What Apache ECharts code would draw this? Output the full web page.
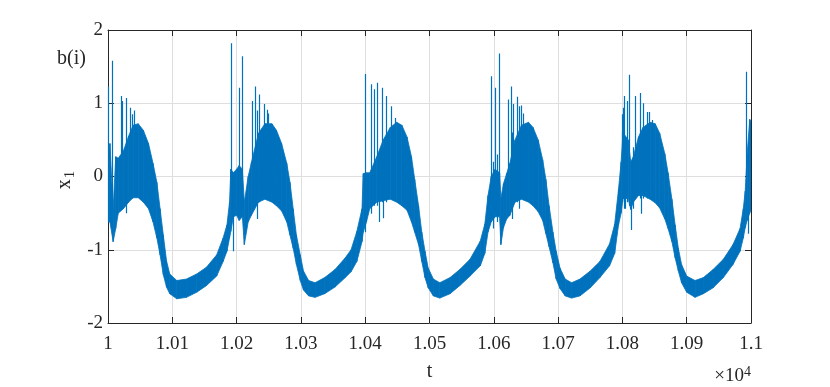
<!DOCTYPE html>
<html>
<head>
<meta charset="utf-8">
<script src="https://cdn.jsdelivr.net/npm/echarts@6/dist/echarts.min.js"></script>
<style>
  html, body { margin: 0; padding: 0; background: #fff; }
  #chart { width: 830px; height: 387px; }
</style>
</head>
<body>
<div id="chart"></div>
<script>
// envelope of the dense oscillation band
const bandT = [
  10000, 10003, 10008, 10012, 10016, 10024, 10032, 10039, 10047, 10055, 10063, 10070, 10076, 10081, 10086, 10091, 10096,
  10107, 10122, 10138, 10153, 10169, 10179, 10185, 10189,
  10191, 10195, 10200, 10204, 10209, 10212, 10218, 10223, 10234, 10244, 10255, 10262, 10270, 10278, 10283, 10288, 10293,
  10299, 10304, 10312, 10322, 10337, 10353, 10369, 10378, 10387, 10395,
  10397, 10402, 10407, 10418, 10428, 10439, 10449, 10457, 10465, 10472, 10477, 10483, 10488, 10493, 10498,
  10506, 10516, 10532, 10547, 10563, 10579, 10586, 10591,
  10596, 10602, 10609, 10611, 10615, 10620, 10625, 10633, 10643, 10654, 10661, 10669, 10676, 10681, 10686, 10692, 10697,
  10703, 10711, 10721, 10734, 10750, 10765, 10780, 10788, 10794,
  10798, 10801, 10809, 10813, 10817, 10825, 10832, 10843, 10851, 10858, 10866, 10871, 10877, 10882, 10887, 10892,
  10900, 10913, 10926, 10941, 10957, 10972, 10983, 10988, 10991, 10994, 10998, 11000
]
const bandLow = [
  -0.62, -0.62, -0.89, -0.71, -0.50, -0.44, -0.35, -0.29, -0.29, -0.35, -0.44, -0.62, -0.84, -1.07, -1.34, -1.51, -1.60,
  -1.67, -1.65, -1.58, -1.49, -1.36, -1.16, -1.02, -0.84,
  -0.75, -0.55, -0.53, -0.60, -0.55, -0.93, -0.62, -0.53, -0.35, -0.31, -0.35, -0.40, -0.47, -0.62, -0.80, -0.98, -1.20,
  -1.42, -1.55, -1.63, -1.65, -1.60, -1.51, -1.38, -1.30, -1.16, -0.89,
  -0.76, -0.62, -0.44, -0.35, -0.33, -0.31, -0.35, -0.40, -0.46, -0.62, -0.76, -0.93, -1.16, -1.38, -1.52,
  -1.63, -1.66, -1.60, -1.49, -1.36, -1.22, -1.05, -0.76,
  -0.62, -0.55, -0.55, -0.93, -0.70, -0.58, -0.53, -0.35, -0.31, -0.35, -0.40, -0.48, -0.60, -0.78, -0.96, -1.18, -1.40,
  -1.53, -1.63, -1.66, -1.63, -1.52, -1.38, -1.22, -1.05, -0.66,
  -0.50, -0.30, -0.30, -0.45, -0.35, -0.26, -0.26, -0.31, -0.36, -0.43, -0.58, -0.71, -0.89, -1.11, -1.29, -1.45,
  -1.58, -1.65, -1.60, -1.52, -1.38, -1.20, -1.02, -0.84, -0.70, -0.60, -0.50, -0.45
]
const bandHigh = [
  0.20, 0.45, -0.44, 0.27, 0.25, 0.35, 0.55, 0.70, 0.72, 0.63, 0.45, 0.18, -0.08, -0.44, -0.80, -1.15, -1.33,
  -1.42, -1.40, -1.33, -1.24, -1.07, -0.84, -0.66, -0.35,
  0.10, 0.05, 0.10, 0.15, 0.10, -0.35, 0.00, 0.19, 0.59, 0.72, 0.72, 0.63, 0.45, 0.18, -0.08, -0.44, -0.80,
  -1.07, -1.29, -1.42, -1.45, -1.38, -1.27, -1.11, -1.00, -0.75, -0.44,
  0.04, 0.05, 0.05, 0.27, 0.50, 0.67, 0.74, 0.70, 0.54, 0.27, -0.04, -0.40, -0.76, -1.02, -1.25,
  -1.40, -1.45, -1.38, -1.27, -1.13, -0.88, -0.65, -0.26,
  0.00, 0.10, 0.05, -0.30, -0.10, 0.04, 0.18, 0.50, 0.70, 0.74, 0.67, 0.50, 0.23, -0.04, -0.40, -0.76, -1.02,
  -1.25, -1.40, -1.45, -1.40, -1.29, -1.16, -0.92, -0.65, -0.17,
  0.20, 0.60, 0.50, 0.20, 0.27, 0.54, 0.67, 0.74, 0.72, 0.59, 0.31, 0.05, -0.31, -0.66, -0.98, -1.20,
  -1.36, -1.42, -1.38, -1.27, -1.13, -0.93, -0.71, -0.44, -0.20, 0.30, 0.78, 0.75
]

// single large excursions sticking out of the band
const spikeT = [
  10001, 10007, 10020, 10022, 10028, 10034, 10038, 10041,
  10191, 10195, 10204, 10209, 10224, 10229, 10232, 10236, 10243, 10247, 10249,
  10400, 10409, 10414, 10418, 10422, 10427, 10428, 10433, 10440, 10446,
  10596, 10599, 10602, 10605, 10609, 10623, 10627, 10629, 10630, 10636, 10639, 10643, 10646,
  10799, 10800, 10801, 10803, 10804, 10807, 10811, 10813, 10817, 10820, 10827, 10830, 10832, 10838, 10842, 10847,
  10992, 10995
]
const spikeLow = [
  -0.62, -0.71, -0.40, -0.44, -0.50, -0.30, -0.30, -0.25,
  -0.60, -1.02, -0.55, -0.50, -0.45, -0.40, -0.58, -0.35, -0.30, -0.30, -0.30,
  -0.76, -0.51, -0.40, -0.40, -0.62, -0.35, -0.57, -0.35, -0.30, -0.30,
  -0.58, -0.71, -0.50, -0.62, -0.50, -0.45, -0.40, -0.58, -0.35, -0.35, -0.44, -0.30, -0.30,
  -0.35, -0.35, -0.30, -0.44, -0.44, -0.35, -0.40, -0.73, -0.44, -0.30, -0.30, -0.51, -0.30, -0.30, -0.30, -0.30,
  -0.60, -0.78
]
const spikeHigh = [
  1.23, 1.58, 1.10, 1.03, 1.07, 0.94, 0.85, 0.90,
  1.82, 0.05, 1.21, 1.64, 1.03, 1.23, 0.90, 1.12, 0.99, 0.91, 0.86,
  1.40, 1.26, 1.19, 1.28, 0.30, 1.21, 0.40, 1.10, 0.96, 0.80,
  1.37, 0.20, 1.21, 0.30, 1.68, 1.05, 1.23, 0.60, 0.99, 1.09, 0.96, 0.97, 0.86,
  0.85, 0.60, 0.94, 1.10, 0.50, 1.03, 1.39, 0.20, 0.40, 1.10, 1.14, 0.50, 1.00, 0.88, 0.88, 0.77,
  1.43, 0.40
]

const yTicks = [-2, -1, 0, 1, 2]

const BLUE = '#0072BD'
const INK = '#262626'
const FONT = 'Liberation Serif'

const chart = echarts.init(document.getElementById('chart'))

// one row per band sample: [t, low, high]
const bandData = bandT.map((t, i) => [t, bandLow[i], bandHigh[i]])
const spikeData = spikeT.map((t, i) => ({ coords: [[t, spikeLow[i]], [t, spikeHigh[i]]] }))

// fill the band between sample i and i+1 as a quad
function renderBand(params, api) {
  const i = params.dataIndex
  if (i >= bandData.length - 1) return null
  const a = bandData[i]
  const b = bandData[i + 1]
  const pts = [
    api.coord([a[0], a[1]]),
    api.coord([b[0], b[1]]),
    api.coord([b[0], b[2]]),
    api.coord([a[0], a[2]]),
  ]
  return {
    type: 'polygon',
    shape: { points: pts },
    style: { fill: BLUE, stroke: BLUE, lineWidth: 0.8 },
  }
}

const xBase = {
  type: 'value',
  min: 10000,
  max: 11000,
  interval: 100,
  axisLine: { show: true, onZero: false, lineStyle: { color: INK, width: 1 } },
  axisTick: { show: true, inside: true, length: 6, lineStyle: { color: INK } },
}
const yBase = {
  type: 'value',
  min: yTicks[0],
  max: yTicks[yTicks.length - 1],
  interval: 1,
  axisLine: { show: true, onZero: false, lineStyle: { color: INK, width: 1 } },
  axisTick: { show: true, inside: true, length: 6, lineStyle: { color: INK } },
}

const option = {
  animation: false,
  grid: { left: 108, right: 79, top: 30, bottom: 59, containLabel: false },
  xAxis: [
    {
      ...xBase,
      position: 'bottom',
      axisLabel: {
        color: INK, fontFamily: FONT, fontSize: 19, margin: 12,
        formatter: (v) => String(+(v / 10000).toFixed(2)),
      },
      splitLine: { show: true, lineStyle: { color: '#dedede', width: 1 } },
      name: 't',
      nameLocation: 'middle',
      nameGap: 39,
      nameTextStyle: { color: INK, fontFamily: FONT, fontSize: 20 },
    },
    { ...xBase, position: 'top', axisLabel: { show: false }, splitLine: { show: false } },
  ],
  yAxis: [
    {
      ...yBase,
      position: 'left',
      axisLabel: { color: INK, fontFamily: FONT, fontSize: 19, margin: 5, padding: [5, 0, 0, 0] },
      splitLine: { show: true, lineStyle: { color: '#dedede', width: 1 } },
    },
    { ...yBase, position: 'right', axisLabel: { show: false }, splitLine: { show: false } },
  ],
  graphic: [
    {
      type: 'text', left: 57, top: 49,
      style: { text: 'b(i)', fill: INK, font: `20px "${FONT}"` },
    },
    {
      type: 'text', x: 65, y: 180, rotation: Math.PI / 2,
      style: {
        text: '{x|x}{s|1}',
        align: 'center', verticalAlign: 'middle',
        rich: {
          x: { fontFamily: FONT, fontSize: 20, fill: INK, color: INK },
          s: { fontFamily: FONT, fontSize: 15, fill: INK, color: INK, padding: [10, 0, 0, 1] },
        },
      },
    },
    {
      type: 'text', right: 79, top: 365,
      style: {
        text: '×10{s|4}',
        fill: INK, font: `19px "${FONT}"`,
        rich: { s: { fontFamily: FONT, fontSize: 14, fill: INK, color: INK, padding: [0, 0, 9, 0] } },
      },
    },
  ],
  series: [
    {
      type: 'custom',
      renderItem: renderBand,
      data: bandData,
      encode: { x: 0, y: [1, 2] },
      silent: true,
      clip: true,
      z: 3,
    },
    {
      type: 'lines',
      coordinateSystem: 'cartesian2d',
      data: spikeData,
      lineStyle: { color: BLUE, width: 1.2, opacity: 1 },
      silent: true,
      z: 4,
    },
  ],
}

chart.setOption(option)
</script>
</body>
</html>
